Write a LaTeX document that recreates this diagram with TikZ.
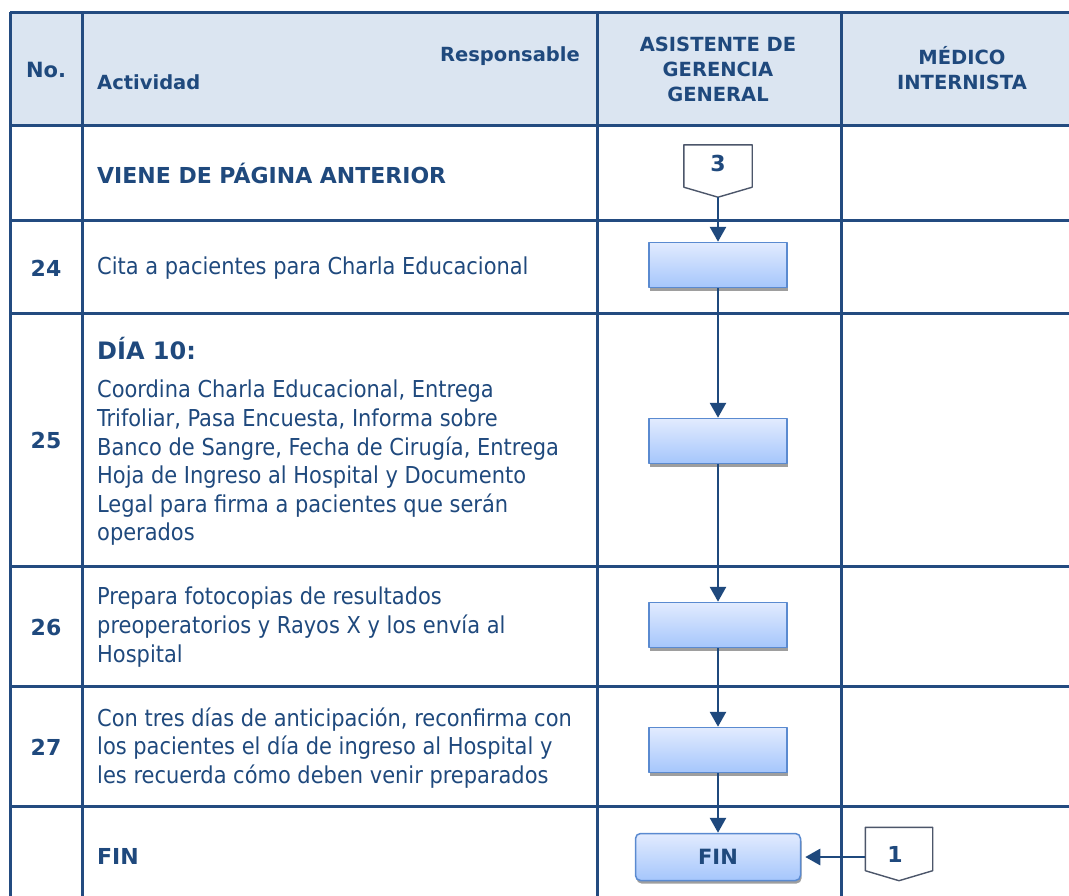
\documentclass[tikz,border=0pt]{standalone}
\usepackage{fontspec}
\setmainfont{DejaVu Sans Condensed}
\newfontfamily\widesans{DejaVu Sans}
\usepackage{xcolor}
\usetikzlibrary{arrows.meta,calc,positioning,shadows}

\definecolor{navy}{HTML}{1F497D}
\definecolor{rule}{HTML}{234B80}
\definecolor{headfill}{HTML}{DBE5F1}
\definecolor{boxtop}{HTML}{E2EBFE}
\definecolor{boxbot}{HTML}{A5C6FC}
\definecolor{boxrim}{HTML}{5A8AD0}
\definecolor{pagerim}{HTML}{4C566A}

\begin{document}
\begin{tikzpicture}[x=1pt,y=-1pt,line join=round,
  grid/.style={rule,line width=3pt},
  txt/.style={text=navy,font=\fontsize{23.3}{28.6}\selectfont,anchor=west,align=left,inner sep=0pt},
  bold/.style={text=navy,font=\widesans\fontsize{22}{25}\selectfont\bfseries,inner sep=0pt},
  head/.style={text=navy,font=\widesans\fontsize{19.5}{25}\selectfont\bfseries,inner sep=0pt,align=center},
  task/.style={draw=boxrim,line width=1.5pt,top color=boxtop,bottom color=boxbot,
    minimum width=138pt,minimum height=45pt,inner sep=0pt,
    drop shadow={shadow xshift=1pt,shadow yshift=-3pt,fill=black!38,opacity=1}},
  offpage/.style={draw=pagerim,line width=1.4pt,fill=white},
  flow/.style={navy,line width=2.8pt,-{Triangle[width=16pt,length=15pt]}}]
  \clip (0,0) rectangle (1069,895);

  % ---- header band -------------------------------------------------------
  \fill[headfill] (10,12) rectangle (1080,125);
  \node[head,font=\widesans\fontsize{21}{25}\selectfont\bfseries] (hno) at (46,70) {No.};
  \node[head,anchor=west] (hact) at (97,82) {Actividad};
  \node[head,anchor=east] (hresp) at (580,56) {Responsable};
  \node[head] (hasis) at (718,69) {ASISTENTE DE\\GERENCIA\\GENERAL};
  \node[head] (hmed) at (962,68) {MÉDICO\\INTERNISTA};

  % ---- table rules -------------------------------------------------------
  \foreach \y in {12,125,220,313,566,686,806}
    \draw[grid] (10,\y) -- (1080,\y);
  \foreach \x in {10,82,597,841}
    \draw[grid] (\x,12) -- (\x,900);

  % ---- row numbers -------------------------------------------------------
  \node[bold] (n24) at (46,268) {24};
  \node[bold] (n25) at (46,440) {25};
  \node[bold] (n26) at (46,627) {26};
  \node[bold] (n27) at (46,747) {27};

  % ---- activity texts ----------------------------------------------------
  \node[bold,anchor=west] (tviene) at (97,173) {VIENE DE PÁGINA ANTERIOR};
  \node[txt] (t24) at (97,268) {Cita a pacientes para Charla Educacional};
  \node[bold,anchor=west,font=\widesans\fontsize{24}{26}\selectfont\bfseries] (t25a) at (97,349) {DÍA 10:};
  \node[txt] (t25) at (97,463)
       {Coordina Charla Educacional, Entrega\\
        Trifoliar, Pasa Encuesta, Informa sobre\\
        Banco de Sangre, Fecha de Cirugía, Entrega\\
        Hoja de Ingreso al Hospital y Documento\\
        Legal para firma a pacientes que serán\\
        operados};
  \node[txt] (t26) at (97,627)
       {Prepara fotocopias de resultados\\
        preoperatorios y Rayos X y los envía al\\
        Hospital};
  \node[txt] (t27) at (97,748)
       {Con tres días de anticipación, reconfirma con\\
        los pacientes el día de ingreso al Hospital y\\
        les recuerda cómo deben venir preparados};
  \node[bold,anchor=west] (tfin) at (97,856) {FIN};

  % ---- off-page connector 3 ----------------------------------------------
  \node[minimum width=68pt,minimum height=42pt,inner sep=0pt] (c3) at (718,166) {};
  \coordinate (c3tip) at ($(c3.south)+(0,10)$);
  \draw[offpage] (c3.north west) -- (c3.north east) -- (c3.south east)
        -- (c3tip) -- (c3.south west) -- cycle;
  \node[bold] at ($(c3.center)+(0,-3)$) {3};

  % ---- process boxes -----------------------------------------------------
  \node[task] (b24) at (718,265) {};
  \node[task] (b25) at (718,441) {};
  \node[task] (b26) at (718,625) {};
  \node[task] (b27) at (718,750) {};
  \node[task,rounded corners=5pt,minimum width=165pt,minimum height=47pt,
        bold,font=\widesans\fontsize{21}{23}\selectfont\bfseries] (fin) at (718,857) {FIN};

  % ---- off-page connector 1 ----------------------------------------------
  \node[minimum width=67pt,minimum height=43pt,inner sep=0pt] (c1) at (899,849) {};
  \coordinate (c1tip) at ($(c1.south)+(0,10)$);
  \draw[offpage] (c1.north west) -- (c1.north east) -- (c1.south east)
        -- (c1tip) -- (c1.south west) -- cycle;
  \node[bold] at ($(c1.center)+(-4,5)$) {1};

  % ---- flow --------------------------------------------------------------
  \draw[flow] (c3tip) -- (b24.north);
  \draw[flow] (b24.south) -- (b25.north);
  \draw[flow] (b25.south) -- (b26.north);
  \draw[flow] (b26.south) -- (b27.north);
  \draw[flow] (b27.south) -- (fin.north);
  \draw[flow] (c1.west |- fin.east) -- ($(fin.east)+(4,0)$);
\end{tikzpicture}
\end{document}
